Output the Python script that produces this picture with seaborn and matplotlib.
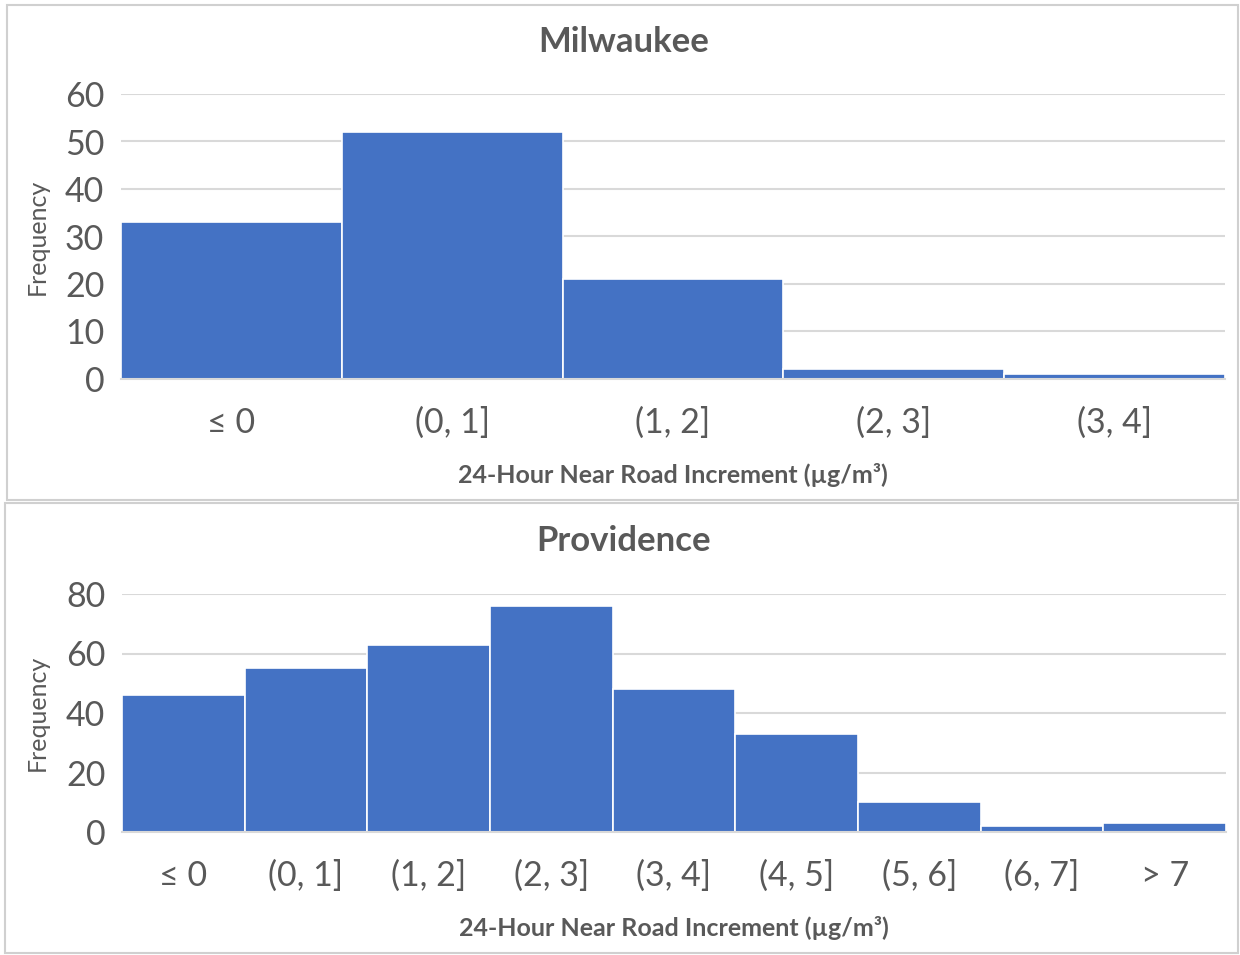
import matplotlib
matplotlib.use("Agg")
import matplotlib.pyplot as plt
import seaborn as sns
import pandas as pd
from matplotlib.patches import Rectangle

# Data
mil_bins = ["\u2264 0", "(0, 1]", "(1, 2]", "(2, 3]", "(3, 4]"]
mil_freq = [33, 52, 21, 2, 1]

prov_bins = ["\u2264 0", "(0, 1]", "(1, 2]", "(2, 3]", "(3, 4]", "(4, 5]", "(5, 6]", "(6, 7]", "> 7"]
prov_freq = [46, 55, 63, 76, 48, 33, 10, 2, 3]

bar_color = "#4472C4"
text_color = "#595959"
grid_color = "#D9D9D9"
xlabel_text = "24-Hour Near Road Increment (\u00b5g/m\u00b3)"

sns.set_theme(style="white")
plt.rcParams['font.family'] = ['Lato', 'DejaVu Sans']

fig = plt.figure(figsize=(12.4, 9.55), dpi=100)

W, H = 1240, 955

def px_rect(x0, y0, x1, y1):
    # convert pixel box (top-left origin) into figure fraction [left, bottom, width, height]
    return [x0 / W, 1 - y1 / H, (x1 - x0) / W, (y1 - y0) / H]

# panel frames
for (x0, y0, x1, y1) in [(7, 5, 1238, 500), (5, 503, 1238, 953)]:
    l, b, w, h = px_rect(x0, y0, x1, y1)
    fig.patches.append(Rectangle((l, b), w, h, transform=fig.transFigure,
                                 fill=False, edgecolor="#D0D0D0", linewidth=1.5))

panels = [
    ("Milwaukee", mil_bins, mil_freq, px_rect(121, 94, 1225, 379), 60, 10, 42, 237),
    ("Providence", prov_bins, prov_freq, px_rect(122, 594, 1226, 832), 80, 20, 541, 713),
]

for title, bins, freq, pos, ymax, step, title_y, ylab_y in panels:
    ax = fig.add_axes(pos)
    df = pd.DataFrame({"bin": bins, "freq": freq})
    sns.barplot(data=df, x="bin", y="freq", order=bins, color=bar_color,
                width=1.0, edgecolor="white", linewidth=1.2, saturation=1, ax=ax, zorder=3)
    ax.set_ylim(0, ymax)
    ax.set_xlim(-0.5, len(bins) - 0.5)
    ax.set_yticks(range(0, ymax + 1, step))
    ax.yaxis.grid(True, color=grid_color, linewidth=1.5, zorder=0)
    ax.set_axisbelow(True)
    for s in ["top", "right", "left"]:
        ax.spines[s].set_visible(False)
    ax.spines["bottom"].set_color(grid_color)
    ax.spines["bottom"].set_linewidth(1.5)
    ax.spines["bottom"].set_zorder(4)
    ax.tick_params(axis="both", length=0, labelsize=24.5, colors=text_color)
    ax.tick_params(axis="x", pad=20)
    ax.tick_params(axis="y", pad=12)
    ax.set_ylabel("")
    ax.set_xlabel(xlabel_text, fontsize=18, fontweight="bold", color=text_color, labelpad=17)
    fig.text(624 / W, 1 - title_y / H, title, ha="center", va="center",
             fontsize=25, fontweight="bold", color=text_color)
    fig.text(37 / W, 1 - ylab_y / H, "Frequency", ha="center", va="center",
             rotation=90, fontsize=18, color=text_color)

plt.savefig("out.png", dpi=100)
plt.close()
